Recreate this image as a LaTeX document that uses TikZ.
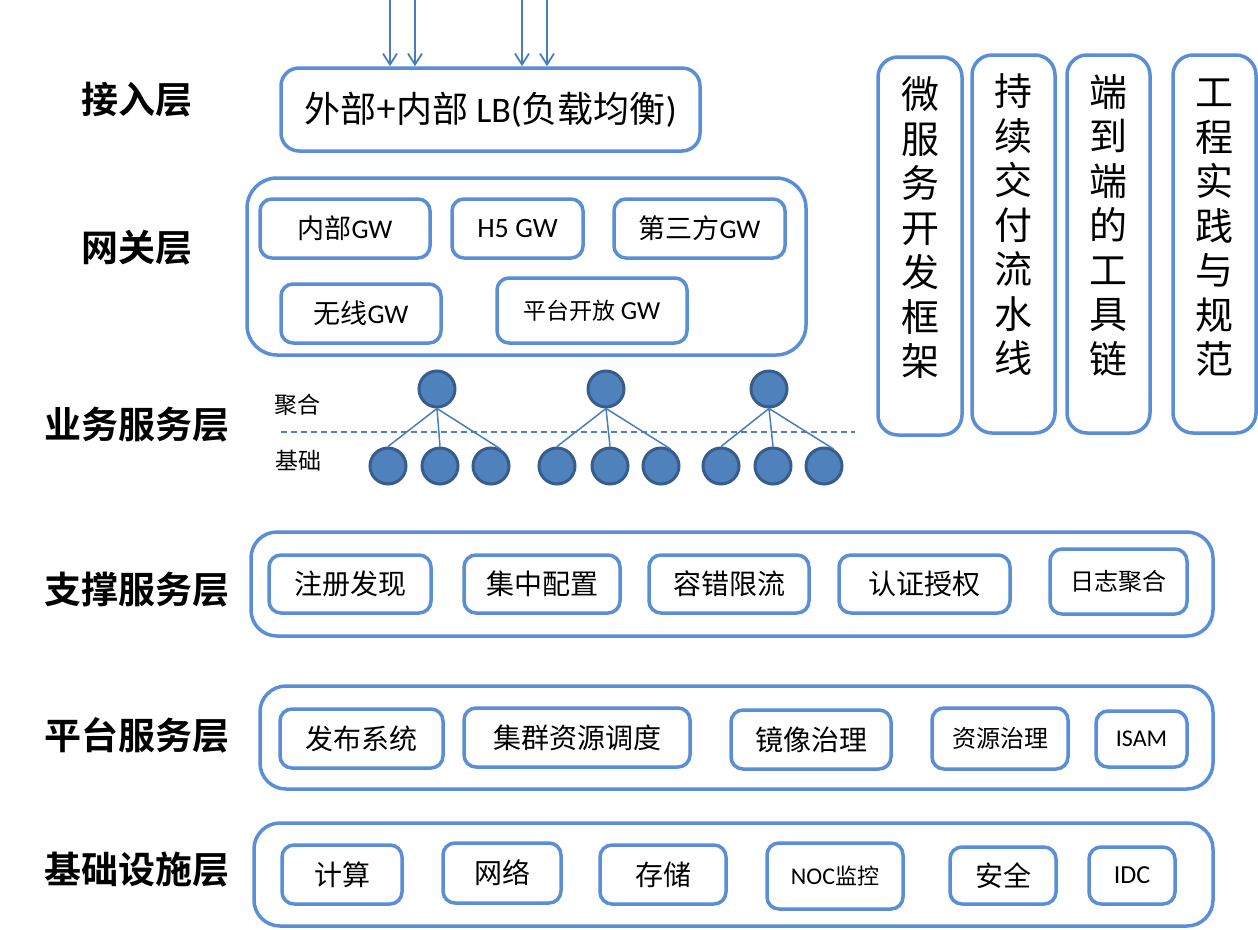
\documentclass[tikz,border=0pt]{standalone}
\usepackage{fontspec}
\setmainfont{Noto Sans CJK SC}
\newfontfamily\cjkb{Noto Sans CJK SC Bold}
\newfontfamily\lat{Carlito}
\usetikzlibrary{arrows.meta}
\definecolor{bcol}{HTML}{5A8ED6}
\definecolor{acol}{HTML}{4A7EBB}
\definecolor{cfill}{HTML}{4F81BD}
\definecolor{cdraw}{HTML}{385D8A}
\newcommand{\fs}[1]{\fontsize{#1}{#1}\selectfont}
\begin{document}
\begin{tikzpicture}[x=1pt,y=-1pt,
  ibox/.style={draw=bcol, line width=3.5pt, rounded corners=12pt, inner sep=0pt, align=center, font=\fs{28}},
  obox/.style={draw=bcol, line width=3.5pt, rounded corners=26pt, inner sep=0pt},
  vbox/.style={draw=bcol, line width=3.5pt, rounded corners=20pt, inner sep=0pt, minimum height=378pt},
  vtext/.style={align=center, font=\fontsize{38}{44.5}\selectfont, inner sep=0pt},
  lbl/.style={font=\cjkb\fs{37}, inner sep=0pt},
  circ/.style={circle, fill=cfill, draw=cdraw, line width=3pt, minimum size=36pt, inner sep=0pt},
  arr/.style={draw=acol, line width=1.8pt, -{Straight Barb[length=11pt,width=14pt,line width=1.8pt]}},
  tline/.style={draw=acol, line width=1.5pt}
]
\useasboundingbox (0,0) rectangle (1258,929);
\fill[white] (0,0) rectangle (1258,929);

% left labels
\node[lbl] (l1) at (137,100) {接入层};
\node[lbl] (l2) at (137,248) {网关层};
\node[lbl] (l3) at (137,425) {业务服务层};
\node[lbl] (l4) at (137,590) {支撑服务层};
\node[lbl] (l5) at (137,735) {平台服务层};
\node[lbl] (l6) at (137,870) {基础设施层};

% access layer
\node[ibox, rounded corners=18pt, minimum width=419pt, minimum height=83pt, font=\fs{36}] (lb) at (490.5,109.5) {\raisebox{5pt}{外部+内部 {\lat LB(}负载均衡{\lat )}}};
\coordinate (a1) at (390,0);
\coordinate (a2) at (415,0);
\coordinate (a3) at (522,0);
\coordinate (a4) at (547,0);
\foreach \a in {a1,a2,a3,a4} \draw[arr] (\a) -- (\a |- lb.north);

% gateway layer
\node[obox, rounded corners=30pt, minimum width=559pt, minimum height=177pt] (gw) at (526.5,266.5) {};
\node[ibox, minimum width=170pt, minimum height=59pt, font=\fs{27}] (gw1) at (345,228.5) {内部{\lat GW}};
\node[ibox, minimum width=131pt, minimum height=59pt, font=\lat\fs{28}] (gw2) at (517.5,228.5) {H5 GW};
\node[ibox, minimum width=171pt, minimum height=59pt, font=\fs{27}] (gw3) at (699.5,228.5) {第三方{\lat GW}};
\node[ibox, minimum width=160pt, minimum height=59pt, font=\fs{27}] (gw4) at (361,313.5) {无线{\lat GW}};
\node[ibox, minimum width=190pt, minimum height=65pt, font=\fs{23}] (gw5) at (592,310.5) {平台开放 {\lat\fs{26}GW}};

% business layer
\node[font=\fs{23}, inner sep=0pt] (jh) at (297,405) {聚合};
\node[font=\fs{23}, inner sep=0pt] (jc) at (298,461) {基础};
\coordinate (d1) at (281,432);
\coordinate (d2) at (855,432);
\draw[draw=cfill, line width=2pt, dash pattern=on 6pt off 4pt] (d1) -- (d2);

\node[circ] (t1) at (437,389) {};
\node[circ] (t2) at (606,389) {};
\node[circ] (t3) at (769,389) {};
\node[circ] (b1) at (388,466) {};
\node[circ] (b2) at (440,466) {};
\node[circ] (b3) at (491,466) {};
\node[circ] (b4) at (557,466) {};
\node[circ] (b5) at (610,466) {};
\node[circ] (b6) at (661,466) {};
\node[circ] (b7) at (721,466) {};
\node[circ] (b8) at (773,466) {};
\node[circ] (b9) at (824,466) {};
\draw[tline] (t1.south) -- (b1.north) (t1.south) -- (b2.north) (t1.south) -- (b3.60);
\draw[tline] (t2.south) -- (b4.north) (t2.south) -- (b5.north) (t2.south) -- (b6.60);
\draw[tline] (t3.south) -- (b7.north) (t3.south) -- (b8.north) (t3.south) -- (b9.60);

% support layer
\node[obox, minimum width=962pt, minimum height=104pt] (sup) at (732,584) {};
\node[ibox, minimum width=162pt, minimum height=58pt] (s1) at (350,584) {注册发现};
\node[ibox, minimum width=156pt, minimum height=58pt] (s2) at (542,584) {集中配置};
\node[ibox, minimum width=160pt, minimum height=58pt] (s3) at (729,584) {容错限流};
\node[ibox, minimum width=171pt, minimum height=58pt] (s4) at (924.5,584) {认证授权};
\node[ibox, minimum width=137pt, minimum height=65pt, font=\fs{24}] (s5) at (1118.5,581.5) {日志聚合};

% platform layer
\node[obox, minimum width=953pt, minimum height=103pt] (plat) at (736.5,737.5) {};
\node[ibox, minimum width=163pt, minimum height=59pt] (p1) at (361.5,738.5) {发布系统};
\node[ibox, minimum width=226pt, minimum height=59pt] (p2) at (577,737.5) {集群资源调度};
\node[ibox, minimum width=160pt, minimum height=59pt] (p3) at (811,739.5) {镜像治理};
\node[ibox, minimum width=136pt, minimum height=61pt, font=\fs{24}] (p4) at (1000,738.5) {资源治理};
\node[ibox, minimum width=91pt, minimum height=56pt, font=\lat\fs{24}] (p5) at (1141.5,739) {ISAM};

% infrastructure layer
\node[obox, minimum width=959pt, minimum height=103pt] (inf) at (733.5,874.5) {};
\node[ibox, minimum width=120pt, minimum height=59pt] (i1) at (342,874.5) {计算};
\node[ibox, minimum width=118pt, minimum height=60pt] (i2) at (502,873) {网络};
\node[ibox, minimum width=126pt, minimum height=59pt] (i3) at (663,874.5) {存储};
\node[ibox, minimum width=136pt, minimum height=66pt, font=\fs{22}] (i4) at (835,876) {{\lat\fs{24}NOC}监控};
\node[ibox, minimum width=106pt, minimum height=57pt] (i5) at (1003,875.5) {安全};
\node[ibox, minimum width=86pt, minimum height=57pt, font=\lat\fs{26}] (i6) at (1132,875.5) {IDC};

% right vertical boxes
\node[vbox, minimum width=84pt] (v1) at (920,246) {};
\node[vbox, minimum width=83pt] (v2) at (1013.5,244) {};
\node[vbox, minimum width=83pt] (v3) at (1108.5,244) {};
\node[vbox, minimum width=83pt] (v4) at (1214.5,244) {};
\node[vtext] (vt1) at (920,228) {微\\服\\务\\开\\发\\框\\架};
\node[vtext] (vt2) at (1013.5,225) {持\\续\\交\\付\\流\\水\\线};
\node[vtext] (vt3) at (1108.5,225) {端\\到\\端\\的\\工\\具\\链};
\node[vtext] (vt4) at (1214.5,228) {工\\程\\实\\践\\与\\规\\范};
\end{tikzpicture}
\end{document}
